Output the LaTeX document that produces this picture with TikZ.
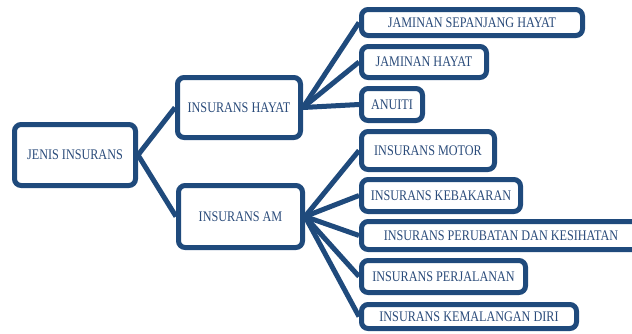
\documentclass[tikz,border=0pt]{standalone}
\usepackage{fontspec}
\setmainfont{Liberation Serif}[FakeStretch=0.83]
\usetikzlibrary{backgrounds}
\definecolor{insBlue}{HTML}{1F4A7C}
\definecolor{insText}{HTML}{2A4B7A}

\begin{document}
\begin{tikzpicture}[
        x = 0.75pt, y = -0.75pt,
        box/.style = {draw = insBlue, line width = 3.75pt, fill = white,
            rounded corners = 5pt, inner sep = 0pt, text = insText,
            font = \fontsize{11}{13}\selectfont},
        boxsize/.style 2 args = {minimum width = #1*0.75pt, minimum height = #2*0.75pt},
        link/.style = {draw = insBlue, line width = 3.75pt}
    ]
      \useasboundingbox (0,0) rectangle (632,333);
      % root and the two main kinds
      \node[box, boxsize = {121}{61}] (jenis) at (75,155) {JENIS INSURANS};
      \node[box, boxsize = {123}{60}] (hayat) at (239,107.5) {INSURANS HAYAT};
      \node[box, boxsize = {124}{62}] (am) at (240.5,216.5) {INSURANS AM};

      % insurans hayat
      \node[box, boxsize = {221}{26}] (j_sh) at (472,22.5) {JAMINAN SEPANJANG HAYAT};
      \node[box, boxsize = {125}{31}] (j_h) at (424,62) {JAMINAN HAYAT};
      \node[box, boxsize = {61}{32}] (anuiti) at (392,104.5) {ANUITI};

      % insurans am
      \node[box, boxsize = {133}{38}] (motor) at (428,150.5) {INSURANS MOTOR};
      \node[box, boxsize = {159}{32}] (bakar) at (441,195.5) {INSURANS KEBAKARAN};
      \node[box, boxsize = {279}{28}] (ubat) at (501,235.5) {INSURANS PERUBATAN DAN KESIHATAN};
      \node[box, boxsize = {164}{32}] (jalan) at (443.5,276.5) {INSURANS PERJALANAN};
      \node[box, boxsize = {215}{24}] (malang) at (469,316.5) {INSURANS KEMALANGAN DIRI};

      \begin{scope}[on background layer]
      \path[link] (jenis.east) edge (hayat.west) edge (am.west);
      \path[link] (hayat.east) edge (j_sh.west) edge (j_h.west) edge (anuiti.west);
      \path[link] (am.east) edge (motor.west) edge (bakar.west) edge (ubat.west)
                            edge (jalan.west) edge (malang.west);
      \end{scope}
    \end{tikzpicture}
\end{document}
